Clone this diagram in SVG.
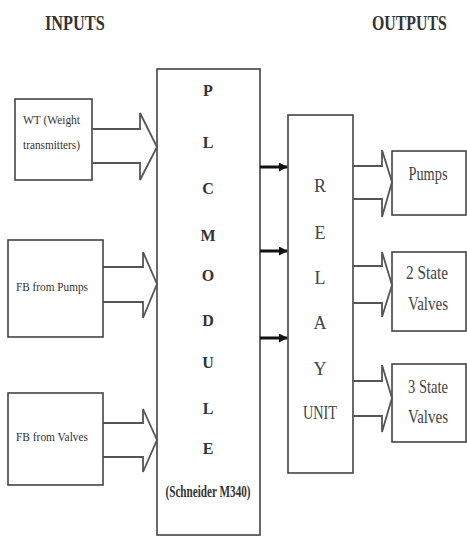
<svg xmlns="http://www.w3.org/2000/svg" width="467" height="538" viewBox="0 0 467 538">
<defs>
<style>
.box{fill:#fff;stroke:#444;stroke-width:1.6}
.blk{fill:none;stroke:#555;stroke-width:1.8;stroke-linejoin:miter}
.t{font-family:"Liberation Serif","Times New Roman",serif;fill:#333}
.h{font-family:"Liberation Serif","Times New Roman",serif;font-weight:bold;font-size:22px;fill:#333}
.pl{font-family:"Liberation Serif","Times New Roman",serif;font-weight:bold;font-size:16px;fill:#333;text-anchor:middle}
.rl{font-family:"Liberation Serif","Times New Roman",serif;font-size:18px;fill:#444;text-anchor:middle}
.con{stroke:#111;stroke-width:3;fill:none}
</style>
<marker id="ah" viewBox="0 0 10 10" refX="9" refY="5" markerWidth="3" markerHeight="3" orient="auto" markerUnits="strokeWidth">
<path d="M0,0 L10,5 L0,10 z" fill="#111"/>
</marker>
</defs>
<rect width="467" height="538" fill="#fff"/>
<text class="h" transform="translate(45,30) scale(0.74,1)">INPUTS</text>
<text class="h" transform="translate(372,30) scale(0.72,1)">OUTPUTS</text>

<g id="wt">
<rect class="box" x="15" y="99" width="77" height="81"/>
<text class="t" x="23" y="124" font-size="12" textLength="57" lengthAdjust="spacingAndGlyphs">WT (Weight</text>
<text class="t" x="23" y="149" font-size="12" textLength="57" lengthAdjust="spacingAndGlyphs">transmitters)</text>
</g>
<g id="fbpumps">
<rect class="box" x="8" y="240" width="95" height="97"/>
<text class="t" x="16" y="291" font-size="12" textLength="72" lengthAdjust="spacingAndGlyphs">FB from Pumps</text>
</g>
<g id="fbvalves">
<rect class="box" x="8" y="393" width="95" height="92"/>
<text class="t" x="16" y="441" font-size="12" textLength="72" lengthAdjust="spacingAndGlyphs">FB from Valves</text>
</g>
<g id="plc">
<rect class="box" x="157" y="69" width="103" height="466"/>
<text class="pl" x="208" y="96">P</text>
<text class="pl" x="208" y="148">L</text>
<text class="pl" x="208" y="194">C</text>
<text class="pl" x="208" y="241">M</text>
<text class="pl" x="208" y="281">O</text>
<text class="pl" x="208" y="326">D</text>
<text class="pl" x="208" y="368">U</text>
<text class="pl" x="208" y="414">L</text>
<text class="pl" x="208" y="454">E</text>
<text class="pl" x="208" y="497" font-size="13" textLength="85" lengthAdjust="spacingAndGlyphs">(Schneider M340)</text>
</g>
<g id="relay">
<rect class="box" x="288" y="115" width="65" height="358"/>
<text class="rl" x="320" y="192">R</text>
<text class="rl" x="320" y="239">E</text>
<text class="rl" x="320" y="284">L</text>
<text class="rl" x="320" y="329">A</text>
<text class="rl" x="320" y="375">Y</text>
<text class="rl" x="320" y="419" textLength="34" lengthAdjust="spacingAndGlyphs">UNIT</text>
</g>
<g id="pumps">
<rect class="box" x="392" y="151" width="74" height="64"/>
<text class="rl" x="428" y="180" font-size="15" textLength="39" lengthAdjust="spacingAndGlyphs">Pumps</text>
</g>
<g id="valves2">
<rect class="box" x="392" y="252" width="74" height="79"/>
<text class="rl" x="427" y="279" font-size="15" textLength="42" lengthAdjust="spacingAndGlyphs">2 State</text>
<text class="rl" x="428" y="310" font-size="15" textLength="40" lengthAdjust="spacingAndGlyphs">Valves</text>
</g>
<g id="valves3">
<rect class="box" x="392" y="364" width="74" height="78"/>
<text class="rl" x="428" y="393" font-size="15" textLength="40" lengthAdjust="spacingAndGlyphs">3 State</text>
<text class="rl" x="428" y="423" font-size="15" textLength="40" lengthAdjust="spacingAndGlyphs">Valves</text>
</g>
<g id="connectors">
<path class="blk" d="M92,129 H140 V113 L157,147 L140,180 V163 H92"/>
<path class="blk" d="M103,267 H143 V252 L157,284 L143,318 V302 H103"/>
<path class="blk" d="M103,423 H143 V409 L157,440 L143,472 V457 H103"/>
<path class="blk" d="M353,166 H382 V150 L392,182 L382,217 V199 H353"/>
<path class="blk" d="M353,266 H382 V252 L392,285 L382,317 V303 H353"/>
<path class="blk" d="M353,381 H382 V365 L392,398 L382,432 V416 H353"/>
<line class="con" x1="260" y1="167" x2="287" y2="167" marker-end="url(#ah)"/>
<line class="con" x1="260" y1="251" x2="287" y2="251" marker-end="url(#ah)"/>
<line class="con" x1="260" y1="338" x2="287" y2="338" marker-end="url(#ah)"/>
</g>
</svg>
